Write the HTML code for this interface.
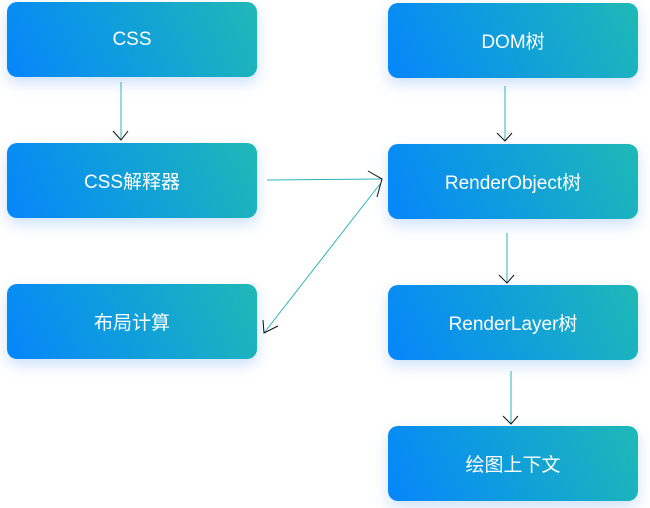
<!DOCTYPE html>
<html><head><meta charset="utf-8"><style>
body{margin:0;width:650px;height:508px;background:#fff;position:relative;overflow:hidden;font-family:"Liberation Sans","Noto Sans CJK SC",sans-serif}
.b{position:absolute;width:250px;height:75px;border-radius:10px;background:linear-gradient(65deg,#0586fb 0%,#12a2d6 55%,#1fb9b6 100%);color:#fff;font-size:19px;display:flex;align-items:center;justify-content:center;box-shadow:0 6px 14px rgba(60,140,230,.25)}
svg{position:absolute;left:0;top:0}
</style></head><body>
<div class="b" style="left:7px;top:2px">CSS</div>
<div class="b" style="left:7px;top:143px">CSS解释器</div>
<div class="b" style="left:7px;top:284px">布局计算</div>
<div class="b" style="left:388px;top:3px">DOM树</div>
<div class="b" style="left:388px;top:144px">RenderObject树</div>
<div class="b" style="left:388px;top:285px">RenderLayer树</div>
<div class="b" style="left:388px;top:426px">绘图上下文</div>
<svg width="650" height="508">
<g stroke="#2bb5bd" stroke-width="1" fill="none">
<line x1="121" y1="82" x2="121" y2="140"/>
<line x1="267" y1="180" x2="382" y2="179"/>
<line x1="380" y1="184" x2="264" y2="333"/>
<line x1="505" y1="86" x2="505" y2="141"/>
<line x1="507" y1="233" x2="507" y2="283"/>
<line x1="511" y1="371" x2="511" y2="424"/>
</g>
<g stroke="#111" stroke-width="1" fill="none">
<polyline points="113,131 121,140 128,131"/>
<polyline points="368,171 382,179 377,197"/>
<polyline points="263,320 264,333 278,326"/>
<polyline points="497,133 505,141 512,133"/>
<polyline points="499,275 507,283 514,275"/>
<polyline points="503,416 511,424 518,416"/>
</g>
</svg>
</body></html>
